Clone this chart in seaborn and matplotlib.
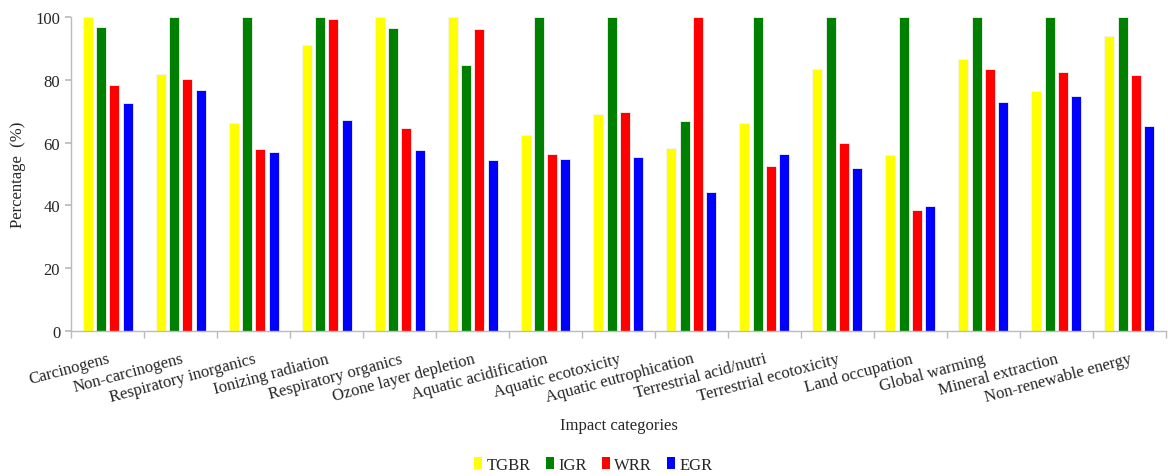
import pandas as pd
import matplotlib.pyplot as plt
import seaborn as sns
from matplotlib.patches import Patch
from matplotlib.ticker import FixedLocator

# -----------------------------
# Data
# -----------------------------
categories = [
    'Carcinogens', 'Non-carcinogens', 'Respiratory inorganics', 'Ionizing radiation',
    'Respiratory organics', 'Ozone layer depletion', 'Aquatic acidification',
    'Aquatic ecotoxicity', 'Aquatic eutrophication', 'Terrestrial acid/nutri',
    'Terrestrial ecotoxicity', 'Land occupation', 'Global warming',
    'Mineral extraction', 'Non-renewable energy',
]
tgbr = [100, 81.8, 66.4, 91.0, 100, 100, 62.4, 69.1, 58.3, 66.2, 83.4, 56.1, 86.7, 76.5, 94.0]
igr = [96.8, 100, 100, 100, 96.6, 84.7, 100, 100, 67.0, 100, 100, 100, 100, 100, 100]
wrr = [78.5, 80.2, 57.9, 99.4, 64.6, 96.3, 56.3, 69.8, 100, 52.6, 59.8, 38.4, 83.4, 82.6, 81.6]
egr = [72.6, 76.8, 57.1, 67.3, 57.8, 54.6, 54.7, 55.5, 44.3, 56.3, 51.9, 39.9, 72.8, 74.9, 65.2]

series_names = ['TGBR', 'IGR', 'WRR', 'EGR']
colors = ['#ffff00', '#008000', '#ff0000', '#0000ff']

frames = []
for name, vals in zip(series_names, [tgbr, igr, wrr, egr]):
    frames.append(pd.DataFrame({'category': categories, 'value': vals, 'scenario': name}))
df = pd.concat(frames, ignore_index=True)

# -----------------------------
# Plot
# -----------------------------
sns.set_theme(style='white')
plt.rcParams['font.family'] = ['Liberation Serif', 'DejaVu Serif']

fig = plt.figure(figsize=(11.68, 4.77), dpi=100)
ax = fig.add_axes([0.061, 0.304, 0.937, 0.658])

sns.barplot(data=df, x='category', y='value', hue='scenario', palette=colors,
            saturation=1, width=0.73, gap=0.25, edgecolor='#f4f4f4', linewidth=0.6,
            legend=False, ax=ax)

ax.set_xlim(-0.5, len(categories) - 0.5)
ax.set_ylim(0, 100)
ax.set_yticks([0, 20, 40, 60, 80, 100])
ax.tick_params(axis='y', labelsize=12, length=4, color='#bbbbbb', direction='out', left=True, pad=4)

# group separators as minor ticks on the x axis
ax.xaxis.set_minor_locator(FixedLocator([i - 0.5 for i in range(len(categories) + 1)]))
ax.tick_params(axis='x', which='major', length=0, pad=14)
ax.tick_params(axis='x', which='minor', length=5, color='#bbbbbb', direction='out', bottom=True)
ax.set_xticks(range(len(categories)))
ax.set_xticklabels(categories, rotation=15, ha='right', rotation_mode='anchor', fontsize=12)

for side in ['top', 'right']:
    ax.spines[side].set_visible(False)
for side in ['left', 'bottom']:
    ax.spines[side].set_color('#bbbbbb')
    ax.spines[side].set_linewidth(1)

ax.set_ylabel('Percentage  (%)', fontsize=12, labelpad=7)
ax.set_xlabel('Impact categories', fontsize=12, labelpad=8)

handles = [Patch(facecolor=c, edgecolor='none', label=n) for n, c in zip(series_names, colors)]
fig.legend(handles=handles, loc='center', bbox_to_anchor=(0.508, 0.024), ncol=4,
           frameon=False, fontsize=12, handlelength=0.5, handleheight=0.7,
           handletextpad=0.25, columnspacing=0.9)

plt.savefig('out.png', dpi=100)
plt.close()
